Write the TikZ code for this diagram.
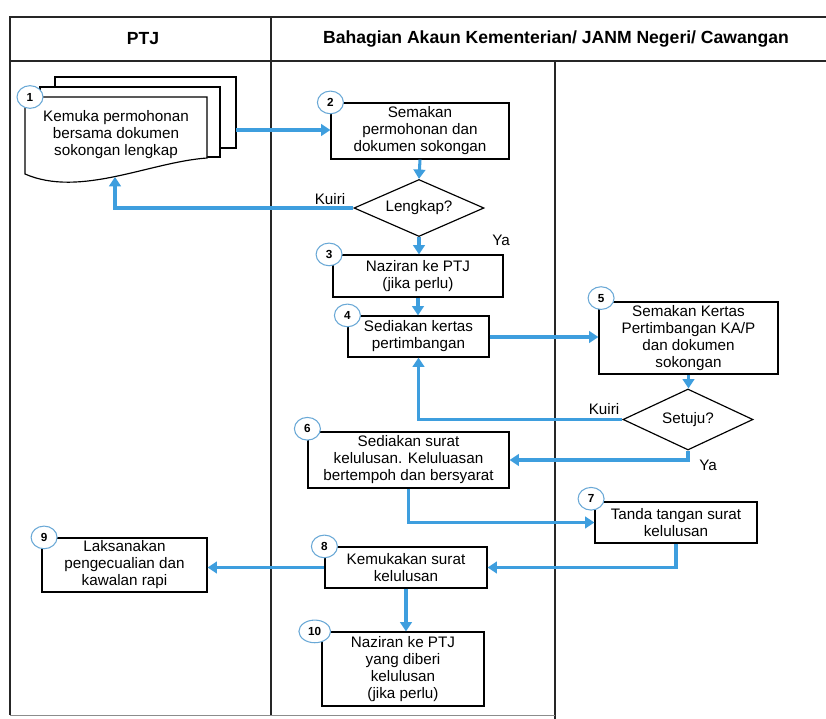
\documentclass[tikz,border=0pt]{standalone}
\usepackage{fontspec}
\setmainfont{Liberation Sans}
\usetikzlibrary{shapes.geometric,arrows.meta}
\definecolor{flowblue}{RGB}{62,158,222}
\definecolor{ringblue}{RGB}{105,168,214}

\begin{document}
\begin{tikzpicture}[x=.03cm, y=-.03cm,
	box/.style={draw=black, line width=1pt, fill=white, align=center, inner sep=2pt, font=\fontsize{13}{14.5}\selectfont},
	dec/.style={diamond, draw=black, line width=1pt, fill=white, aspect=2.2, inner sep=0pt, font=\fontsize{13}{14.5}\selectfont},
	num/.style={ellipse, draw=ringblue, line width=.9pt, fill=white, inner sep=0pt, minimum width=.78cm, minimum height=.68cm, font=\bfseries\fontsize{10}{10}\selectfont},
	flow/.style={draw=flowblue, line width=2.6pt, -{Triangle[length=8pt,width=10pt]}},
	lbl/.style={font=\fontsize{13}{14}\selectfont},
	head/.style={font=\bfseries\fontsize{15}{17}\selectfont},
	grid/.style={draw=black!85, line width=1.1pt}]
	\useasboundingbox (0,0) rectangle (826,719);
	% lajur jadual
	\draw[grid] (826,17) -- (10,17) -- (10,715);
	\draw[grid] (10,61) -- (826,61);
	\draw[grid] (271,17) -- (271,716);
	\draw[grid] (555,61) -- (555,719);
	\draw[draw=black!45, line width=.6pt] (10,715) -- (555,715);
	\node[head] (hptj) at (143,39) {PTJ};
	\node[head] (hbah) at (556,39) {Bahagian Akaun Kementerian/ JANM Negeri/ Cawangan};
	% dokumen bertindih
	\filldraw[fill=white, draw=black, line width=1pt] (55,77) rectangle (236,148);
	\filldraw[fill=white, draw=black, line width=1pt] (40,87) rectangle (220,157);
	\filldraw[fill=white, draw=black, line width=1pt] (25,97) -- (207,97) -- (207,158) .. controls (150,162) and (80,198) .. (25,174) -- cycle;
	\node[align=center, font=\fontsize{13}{14.5}\selectfont] (n1) at (116,135) {Kemuka permohonan\\bersama dokumen\\sokongan lengkap};
	\coordinate (d1out) at (236,130);
	\coordinate (d1in) at (115,177);
	\node[box, minimum width=5.34cm, minimum height=1.68cm] (n2) at (420,131) {Semakan\\permohonan dan\\dokumen sokongan};
	\node[dec, minimum width=3.9cm, minimum height=1.71cm] (d1) at (419,208) {Lengkap?};
	\node[box, minimum width=5.10cm, minimum height=1.26cm] (n3) at (418,276) {Naziran ke PTJ\\(jika perlu)};
	\node[box, minimum width=4.23cm, minimum height=1.23cm] (n4) at (418.5,336.5) {Sediakan kertas\\pertimbangan};
	\node[box, minimum width=5.37cm, minimum height=2.16cm] (n5) at (688.5,338) {Semakan Kertas\\Pertimbangan KA/P\\dan dokumen\\sokongan};
	\node[dec, minimum width=3.9cm, minimum height=1.83cm] (d2) at (688,419.5) {Setuju?};
	\node[box, minimum width=6.03cm, minimum height=1.68cm] (n6) at (408.5,460) {Sediakan surat\\kelulusan. Keluluasan\\bertempoh dan bersyarat};
	\node[box, minimum width=4.86cm, minimum height=1.23cm] (n7) at (676,522.5) {Tanda tangan surat\\kelulusan};
	\node[box, minimum width=4.86cm, minimum height=1.23cm] (n8) at (406,567.5) {Kemukakan surat\\kelulusan};
	\node[box, minimum width=4.95cm, minimum height=1.62cm] (n9) at (124.5,565) {Laksanakan\\pengecualian dan\\kawalan rapi};
	\node[box, minimum width=4.86cm, minimum height=2.22cm] (n10) at (403,669) {Naziran ke PTJ\\yang diberi\\kelulusan\\(jika perlu)};
	% anak panah
	\draw[flow] (d1out) -- (d1out -| n2.west);
	\draw[flow] (n2.south) -- (d1.north);
	\draw[flow] (d1.west) -| (d1in);
	\draw[flow] (d1.south) -- (d1.south |- n3.north);
	\draw[flow] (n3.south) -- (n3.south |- n4.north);
	\draw[flow] (n4.east |- 0,337) -- (n5.west |- 0,337);
	\draw[flow] (n5.south) -- (n5.south |- d2.north);
	\draw[flow] (d2.west) -| (n4.south);
	\draw[flow] (d2.south) |- (n6.east);
	\draw[flow] (n6.south) |- (n7.west);
	\draw[flow] (n7.south) |- (n8.east);
	\draw[flow] (n8.west) -- (n8.west -| n9.east);
	\draw[flow] (n8.south) -- (n8.south |- n10.north);
	\node[lbl] (k1) at (330,199) {Kuiri};
	\node[lbl] (y1) at (501,240) {Ya};
	\node[lbl] (k2) at (604,409) {Kuiri};
	\node[lbl] (y2) at (708,465) {Ya};
	% nombor langkah
	\node[num] (c1) at (30,97) {1};
	\node[num] (c2) at (n2.north west) {2};
	\node[num] (c3) at ([xshift=-.1cm]n3.north west) {3};
	\node[num] (c4) at (n4.north west) {4};
	\node[num] (c5) at ([xshift=.08cm,yshift=.1cm]n5.north west) {5};
	\node[num] (c6) at ([yshift=.08cm]n6.north west) {6};
	\node[num] (c7) at ([xshift=-.1cm,yshift=.08cm]n7.north west) {7};
	\node[num] (c8) at (n8.north west) {8};
	\node[num] (c9) at ([xshift=.08cm]n9.north west) {9};
	\node[num, minimum width=.95cm] (c10) at ([xshift=-.2cm]n10.north west) {10};
\end{tikzpicture}
\end{document}
